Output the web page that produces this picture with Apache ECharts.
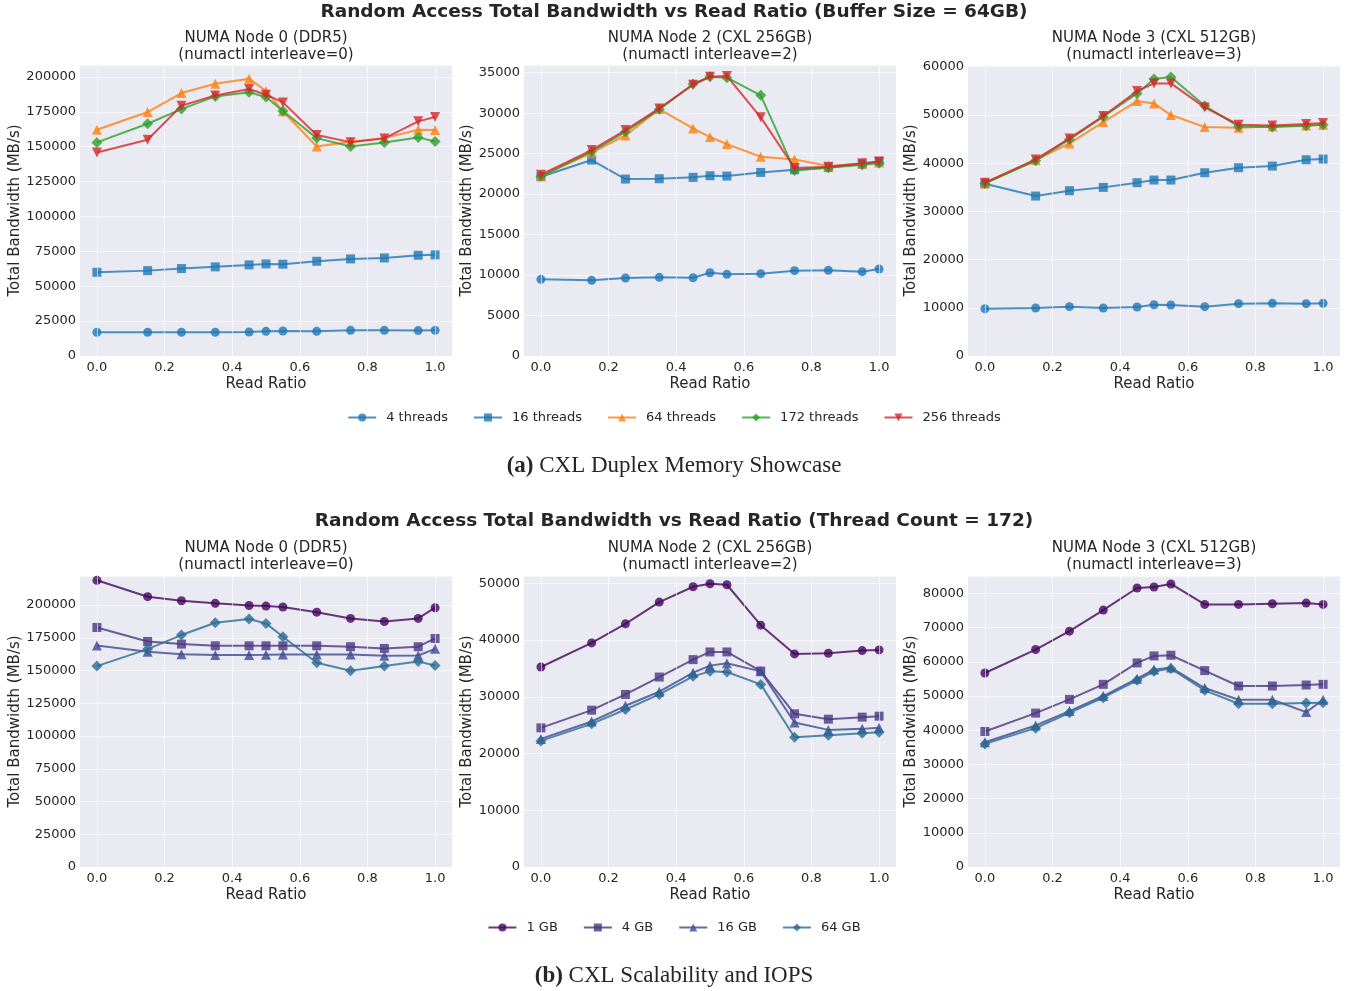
<!DOCTYPE html>
<html><head><meta charset="utf-8">
<script src="https://cdn.jsdelivr.net/npm/echarts@6/dist/echarts.min.js"></script>
<style>html,body{margin:0;padding:0;background:#fff}#c{width:1348px;height:991px}</style>
</head><body><div id="c"></div>
<script>
// ---------- data ----------
const readRatio = [0, 0.15, 0.25, 0.35, 0.45, 0.5, 0.55, 0.65, 0.75, 0.85, 0.95, 1.0];
const xTicks = [0, 0.2, 0.4, 0.6, 0.8, 1.0];

const threadNames = ['4 threads', '16 threads', '64 threads', '172 threads', '256 threads'];
const sizeNames = ['1 GB', '4 GB', '16 GB', '64 GB'];

const suptitleTop = 'Random Access Total Bandwidth vs Read Ratio (Buffer Size = 64GB)';
const suptitleBottom = 'Random Access Total Bandwidth vs Read Ratio (Thread Count = 172)';
const panelTitles = [
  'NUMA Node 0 (DDR5)\n(numactl interleave=0)',
  'NUMA Node 2 (CXL 256GB)\n(numactl interleave=2)',
  'NUMA Node 3 (CXL 512GB)\n(numactl interleave=3)'
];
const captionA = ['(a)', ' CXL Duplex Memory Showcase'];
const captionB = ['(b)', ' CXL Scalability and IOPS'];
const xName = 'Read Ratio';
const yName = 'Total Bandwidth (MB/s)';

// Top figure: thread counts (Buffer 64GB)
const n0_t4   = [17000, 17000, 17000, 17000, 17200, 17700, 17900, 17700, 18400, 18400, 18200, 18400];
const n0_t16  = [60000, 61200, 62700, 63900, 65300, 66000, 65800, 67900, 69600, 70300, 72200, 72500];
const n0_t64  = [162200, 174900, 188500, 195200, 198800, 190000, 175400, 150200, 153500, 156200, 162200, 162000];
const n0_t172 = [153100, 166500, 177000, 186100, 189000, 185600, 175600, 156200, 150200, 153100, 156700, 153800];
const n0_t256 = [145900, 155000, 179400, 186800, 191400, 187300, 181800, 158400, 153300, 156000, 168200, 171300];

const n2_t4   = [9470, 9350, 9630, 9720, 9670, 10290, 10090, 10170, 10540, 10580, 10420, 10750];
const n2_t16  = [22150, 24210, 21860, 21900, 22070, 22270, 22230, 22680, 23010, 23300, 23710, 24040];
const n2_t64  = [22230, 25110, 27250, 30500, 28120, 27050, 26180, 24620, 24290, 23470, 23750, 23920];
const n2_t172 = [22200, 25240, 27700, 30470, 33600, 34500, 34380, 32200, 22930, 23260, 23630, 23800];
const n2_t256 = [22400, 25440, 27910, 30590, 33510, 34500, 34580, 29480, 23220, 23380, 23800, 24040];

const n3_t4   = [9810, 9950, 10230, 9950, 10160, 10640, 10570, 10230, 10850, 10920, 10850, 10920];
const n3_t16  = [35730, 33170, 34280, 34970, 35940, 36490, 36490, 38010, 39050, 39390, 40700, 40840];
const n3_t64  = [35800, 40640, 44090, 48510, 52870, 52380, 49970, 47480, 47340, 47620, 47820, 47960];
const n3_t172 = [35800, 40500, 44920, 49620, 54460, 57430, 57840, 51900, 47620, 47480, 47750, 47960];
const n3_t256 = [35940, 40770, 45130, 49760, 54940, 56530, 56530, 51560, 47960, 47820, 48100, 48310];

// Bottom figure: buffer sizes (172 threads)
const n0_1g  = [218900, 206400, 203300, 201300, 199700, 199200, 198500, 194600, 189800, 187500, 189800, 198000];
const n0_4g  = [182900, 172200, 170200, 168900, 168900, 168900, 168900, 168900, 168200, 166900, 168200, 174500];
const n0_16g = [169200, 164300, 162500, 161800, 161800, 162000, 162300, 162300, 162300, 161300, 161500, 166600];
const n0_64g = [153400, 166400, 177100, 186500, 189300, 186000, 175800, 155900, 149800, 153400, 156900, 153900];

const n2_1g  = [35260, 39500, 42870, 46700, 49410, 49940, 49760, 42630, 37560, 37680, 38150, 38270];
const n2_4g  = [24530, 27650, 30420, 33490, 36560, 37910, 37910, 34550, 27000, 26060, 26420, 26590];
const n2_16g = [22580, 25650, 28420, 30900, 34260, 35500, 35910, 34490, 25470, 24170, 24350, 24530];
const n2_64g = [22230, 25240, 27770, 30420, 33610, 34490, 34380, 32190, 22880, 23230, 23580, 23760];

const n3_1g  = [56720, 63570, 68950, 75110, 81560, 81860, 82740, 76770, 76770, 76970, 77160, 76770];
const n3_4g  = [39610, 44990, 49000, 53400, 59660, 61710, 61910, 57410, 52910, 52910, 53200, 53400];
const n3_16g = [36480, 41370, 45570, 49980, 55060, 57700, 58290, 52320, 48900, 48900, 45280, 48900];
const n3_64g = [35990, 40590, 45090, 49490, 54570, 57210, 58000, 51640, 47730, 47730, 47920, 48020];

// axis ranges [max, interval] per panel
const yMax = [208600, 35950, 60350, 222200, 51300, 85070];
const yInterval = [25000, 5000, 10000, 25000, 10000, 10000];

// ---------- styles ----------
const FONT = 'DejaVu Sans';
const TXT = '#262626';
const threadColors = ['#1f77b4', '#1f77b4', '#ff7f0e', '#2ca02c', '#d62728'];
const sizeColors = ['#44055a', '#4a3680', '#3c4a91', '#2b6a94'];
const threadSymbols = [['circle', 9, 0], ['rect', 9, 0], ['triangle', 10, 0], ['diamond', 11, 0], ['triangle', 10, 180]];
const sizeSymbols = [['circle', 9, 0], ['rect', 9, 0], ['triangle', 10, 0], ['diamond', 11, 0]];

const gridLefts = [80, 524, 968];
const gridW = 372, gridH = 291;
const rowTops = [65, 576];

const panels = [
  { names: threadNames, colors: threadColors, symbols: threadSymbols, data: [n0_t4, n0_t16, n0_t64, n0_t172, n0_t256] },
  { names: threadNames, colors: threadColors, symbols: threadSymbols, data: [n2_t4, n2_t16, n2_t64, n2_t172, n2_t256] },
  { names: threadNames, colors: threadColors, symbols: threadSymbols, data: [n3_t4, n3_t16, n3_t64, n3_t172, n3_t256] },
  { names: sizeNames, colors: sizeColors, symbols: sizeSymbols, data: [n0_1g, n0_4g, n0_16g, n0_64g] },
  { names: sizeNames, colors: sizeColors, symbols: sizeSymbols, data: [n2_1g, n2_4g, n2_16g, n2_64g] },
  { names: sizeNames, colors: sizeColors, symbols: sizeSymbols, data: [n3_1g, n3_4g, n3_16g, n3_64g] }
];

const grid = [], xAxis = [], yAxis = [], series = [];
panels.forEach((p, i) => {
  const col = i % 3, row = Math.floor(i / 3);
  grid.push({ left: gridLefts[col], top: rowTops[row], width: gridW, height: gridH,
    show: true, backgroundColor: '#eaeaf2', borderWidth: 0 });
  xAxis.push({
    type: 'value', gridIndex: i, min: -0.05, max: 1.05, interval: 0.05,
    axisLine: { show: false }, axisTick: { show: false }, splitLine: { show: false },
    axisLabel: { color: TXT, fontSize: 13, fontFamily: FONT, margin: 5,
      showMinLabel: false, showMaxLabel: false,
      formatter: v => (Math.abs(v * 5 - Math.round(v * 5)) < 1e-6 ? v.toFixed(1) : '') },
    name: xName, nameLocation: 'middle', nameGap: 21,
    nameTextStyle: { color: TXT, fontSize: 15, fontFamily: FONT }
  });
  yAxis.push({
    type: 'value', gridIndex: i, min: 0, max: yMax[i], interval: yInterval[i],
    axisLine: { show: false }, axisTick: { show: false },
    splitLine: { show: true, lineStyle: { color: '#ffffff', width: 1, opacity: 0.6 } },
    axisLabel: { color: TXT, fontSize: 13, fontFamily: FONT, margin: 4, showMaxLabel: false,
      formatter: v => String(Math.round(v)) },
    name: yName, nameLocation: 'middle', nameGap: col === 0 ? 51 : 44,
    nameTextStyle: { color: TXT, fontSize: 15, fontFamily: FONT }
  });
  // vertical grid lines at the x tick values
  series.push({
    type: 'line', name: '_grid' + i, xAxisIndex: i, yAxisIndex: i, data: [], z: 1, silent: true,
    markLine: { silent: true, symbol: ['none', 'none'], label: { show: false }, animation: false,
      lineStyle: { color: '#ffffff', type: 'solid', width: 1, opacity: 0.6 },
      data: xTicks.map(v => ({ xAxis: v })) }
  });
  p.data.forEach((vals, s) => {
    const sym = p.symbols[s];
    series.push({
      type: 'line', name: p.names[s], xAxisIndex: i, yAxisIndex: i, z: 3 + s,
      data: readRatio.map((x, k) => [x, vals[k]]),
      symbol: sym[0], symbolSize: sym[1], symbolRotate: sym[2], showAllSymbol: true,
      lineStyle: { color: p.colors[s], width: 2, opacity: 0.8 },
      itemStyle: { color: p.colors[s], opacity: 0.8 },
      emphasis: { disabled: true }, silent: true
    });
  });
});

const graphic = [];
function addText(x, y, text, size, weight, family, extra) {
  graphic.push(Object.assign({ type: 'text', x: x, y: y, silent: true,
    style: Object.assign({ text: text, fontSize: size, fontWeight: weight, fontFamily: family, fill: TXT,
      textAlign: 'center', textVerticalAlign: 'middle', lineHeight: 17 }, extra || {}) }));
}
addText(674, 12, suptitleTop, 18.5, 'bold', FONT, { lineHeight: 22 });
addText(674, 521, suptitleBottom, 18.5, 'bold', FONT, { lineHeight: 22 });
[0, 1].forEach(row => {
  panelTitles.forEach((t, c) => {
    addText(gridLefts[c] + gridW / 2, row === 0 ? 47 : 557, t, 15, 'normal', FONT, { lineHeight: 17 });
  });
});
const capRich = { b: { fontWeight: 'bold', fontSize: 23, fontFamily: 'Liberation Serif', fill: TXT } };
addText(674, 466, '{b|' + captionA[0] + '}' + captionA[1], 23, 'normal', 'Liberation Serif', { rich: capRich, lineHeight: 26 });
addText(674, 976, '{b|' + captionB[0] + '}' + captionB[1], 23, 'normal', 'Liberation Serif', { rich: capRich, lineHeight: 26 });

const legendCommon = { left: 'center', itemWidth: 28, itemHeight: 10, itemGap: 25,
  textStyle: { color: TXT, fontSize: 13, fontFamily: FONT, padding: [0, 0, 0, 5] }, selectedMode: false };

const chart = echarts.init(document.getElementById('c'), null, { renderer: 'canvas' });
chart.setOption({
  animation: false,
  backgroundColor: '#ffffff',
  textStyle: { fontFamily: FONT },
  grid, xAxis, yAxis, series, graphic,
  legend: [
    Object.assign({ data: threadNames, top: 406 }, legendCommon),
    Object.assign({ data: sizeNames, top: 916 }, legendCommon)
  ]
});
</script></body></html>
